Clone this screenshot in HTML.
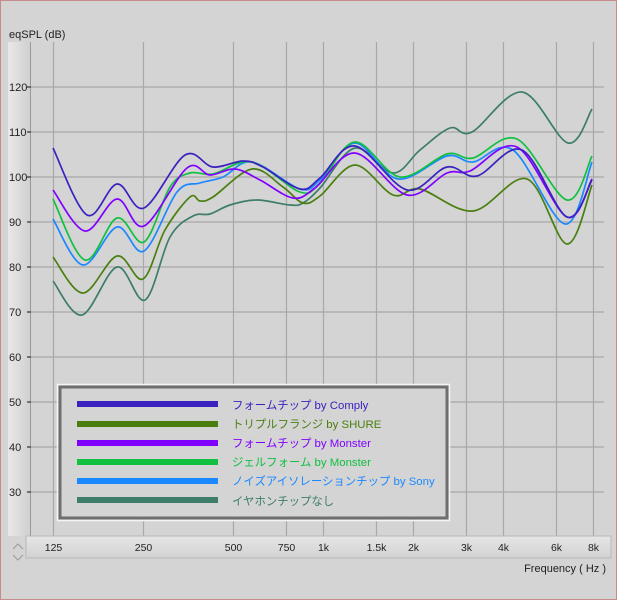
<!DOCTYPE html>
<html><head><meta charset="utf-8"><style>
html,body{margin:0;padding:0;}
body{width:617px;height:600px;overflow:hidden;background:#d4d4d4;font-family:"Liberation Sans","Noto Sans CJK JP",sans-serif;}
</style></head><body>
<svg id="s" width="617" height="600" xmlns="http://www.w3.org/2000/svg" style="position:absolute;left:0;top:0">
<defs>
<linearGradient id="lb" x1="0" x2="1" y1="0" y2="0"><stop offset="0" stop-color="#e8e8e8"/><stop offset="1" stop-color="#d0d0d0"/></linearGradient>
<linearGradient id="bb" x1="0" x2="0" y1="0" y2="1"><stop offset="0" stop-color="#e6e6e6"/><stop offset="1" stop-color="#d2d2d2"/></linearGradient>
</defs>
<rect x="0.5" y="0.5" width="616" height="599" fill="#d4d4d4" stroke="#c88a8a"/>
<text x="9" y="38" font-size="11" fill="#222">eqSPL (dB)</text>
<rect x="8" y="42" width="22" height="494" fill="url(#lb)"/>
<line x1="30.5" y1="42" x2="30.5" y2="536" stroke="#9a9a9a"/>
<g id="grid" stroke="#a8a8a8" stroke-width="1.2"></g>
<g id="ylab" font-size="11" fill="#222"></g>
<rect x="26" y="536" width="585" height="22" fill="url(#bb)" stroke="#b8b8b8"/>
<g id="xlab" font-size="10.5" fill="#222" text-anchor="middle"></g>
<path d="M13 549 L18 544 L23 549 M13 555 L18 560 L23 555" fill="none" stroke="#9a9a9a"/>
<text x="606" y="572" font-size="11" fill="#222" text-anchor="end">Frequency ( Hz )</text>
<g id="curves" fill="none" stroke-width="1.7" stroke-linejoin="round"></g>
<rect x="57.5" y="384.5" width="392" height="136" fill="none" stroke="#f4f4f4" stroke-width="1.5"/>
<rect x="60" y="387" width="387" height="131" fill="#d4d4d4" stroke="#6e6e6e" stroke-width="3"/>
<g font-size="11.4">
<rect x="77" y="401" width="141" height="6" fill="#3a22c0"/><text x="232" y="409" fill="#3a22c0">フォームチップ by Comply</text>
<rect x="77" y="421" width="141" height="6" fill="#4a7f10"/><text x="232" y="428" fill="#4a7f10">トリプルフランジ by SHURE</text>
<rect x="77" y="440" width="141" height="6" fill="#8000ff"/><text x="232" y="447" fill="#8000ff">フォームチップ by Monster</text>
<rect x="77" y="459" width="141" height="6" fill="#10c040"/><text x="232" y="466" fill="#10c040">ジェルフォーム by Monster</text>
<rect x="77" y="478" width="141" height="6" fill="#1a88ff"/><text x="232" y="485" fill="#1a88ff">ノイズアイソレーションチップ by Sony</text>
<rect x="77" y="497" width="141" height="6" fill="#3d7d6a"/><text x="232" y="505" fill="#3d7d6a">イヤホンチップなし</text>
</g>
</svg>
<script>
var NS="http://www.w3.org/2000/svg";
function el(t,a,p,txt){var e=document.createElementNS(NS,t);for(var k in a)e.setAttribute(k,a[k]);if(txt)e.textContent=txt;document.getElementById(p).appendChild(e);return e;}
for(var v=30;v<=120;v+=10){var y=87+(120-v)*4.5;el('line',{x1:31,y1:y,x2:604,y2:y},'grid');el('line',{x1:27,y1:y,x2:31,y2:y,stroke:'#333'},'grid');el('text',{x:9,y:y+4},'ylab',String(v));}
var fs=[[125,'125'],[250,'250'],[500,'500'],[750,'750'],[1000,'1k'],[1500,'1.5k'],[2000,'2k'],[3000,'3k'],[4000,'4k'],[6000,'6k'],[8000,'8k']];
fs.forEach(function(f){var x=Math.round(53+90*Math.log2(f[0]/125))+0.5;el('line',{x1:x,y1:42,x2:x,y2:541},'grid');el('text',{x:x,y:551},'xlab',f[1]);});
function path(p){var d='M'+p[0][0]+' '+p[0][1];for(var i=0;i<p.length-1;i++){var p0=p[i-1]||p[i],p1=p[i],p2=p[i+1],p3=p[i+2]||p2;d+=' C'+(p1[0]+(p2[0]-p0[0])/6)+' '+(p1[1]+(p2[1]-p0[1])/6)+' '+(p2[0]-(p3[0]-p1[0])/6)+' '+(p2[1]-(p3[1]-p1[1])/6)+' '+p2[0]+' '+p2[1];}return d;}
var C=[
['#3d7d6a',[[53,281],[82,315],[117,267],[145,300],[170,237],[193,216],[210,214],[230,205],[257,200],[290,205],[303,203],[320,188],[355,148],[393,173],[420,150],[450,128],[472,132],[522,92],[568,143],[592,109]]],
['#4a7f10',[[53,257],[83,293],[117,256],[143,279],[165,230],[190,197],[200,201],[213,197],[252,169],[283,187],[303,203],[320,196],[355,165],[393,195],[420,189],[473,211],[527,179],[567,244],[592,185]]],
['#1a88ff',[[53,219],[83,265],[117,227],[144,251],[177,192],[200,183],[223,177],[252,162],[300,189],[320,180],[355,143],[398,179],[447,156],[473,162],[513,150],[565,224],[592,162]]],
['#10c040',[[53,199],[85,260],[117,218],[144,242],[170,187],[190,173],[213,174],[252,162],[300,192],[320,183],[355,142],[400,177],[447,154],[473,158],[517,139],[567,200],[592,156]]],
['#8000ff',[[53,190],[85,231],[117,199],[144,226],[187,168],[210,175],[235,169],[260,180],[293,198],[315,188],[355,153],[407,195],[447,173],[470,171],[517,147],[567,217],[592,179]]],
['#3a22c0',[[53,148],[87,215],[117,184],[144,208],[185,155],[213,167],[243,161],[263,167],[300,189],[320,178],[355,146],[407,190],[447,167],[477,176],[522,150],[567,217],[592,180]]]
];
C.forEach(function(c){el('path',{d:path(c[1]),stroke:c[0]},'curves');});
</script>
</body></html>
